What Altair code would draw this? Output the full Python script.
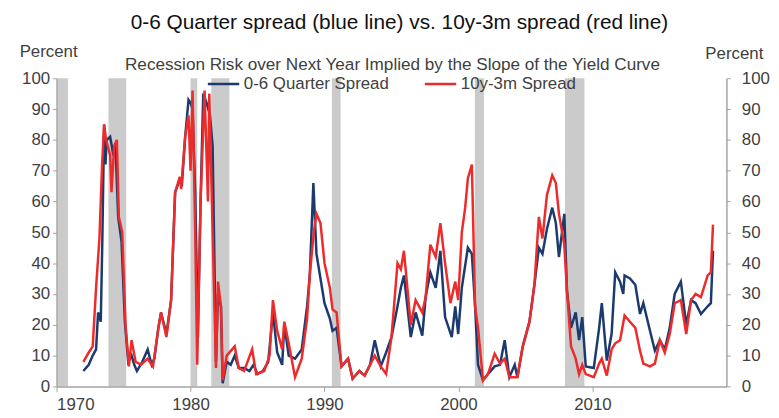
import altair as alt
import pandas as pd

FONT = "Liberation Sans"

# ---- data ----
blue_years = [1972.0, 1972.4, 1972.7, 1972.95, 1973.1, 1973.3, 1973.42, 1973.55, 1973.65, 1973.75,
              1974.0, 1974.2, 1974.4, 1974.6, 1974.85, 1975.1, 1975.35, 1975.6, 1975.8, 1976.0,
              1976.4, 1976.8, 1977.1, 1977.3, 1977.6, 1977.8, 1978.2, 1978.55, 1978.85, 1979.2,
              1979.35, 1979.6, 1979.85, 1980.0, 1980.15, 1980.35, 1980.55, 1980.75, 1980.95, 1981.2,
              1981.45, 1981.65, 1981.9, 1982.05, 1982.27, 1982.4, 1982.7, 1983.0, 1983.3, 1983.6,
              1984.0, 1984.4, 1984.7, 1985.0, 1985.4, 1985.8, 1986.15, 1986.47, 1986.84, 1987.0,
              1987.33, 1987.8, 1988.3, 1988.7, 1988.9, 1989.17, 1989.4, 1989.7, 1990.0, 1990.4,
              1990.6, 1990.9, 1991.27, 1991.76, 1992.1, 1992.6, 1993.0, 1993.4, 1993.75, 1994.2,
              1994.6, 1995.0, 1995.45, 1995.7, 1995.93, 1996.44, 1996.8, 1997.3, 1997.55, 1997.9,
              1998.3, 1998.65, 1999.0, 1999.5, 1999.76, 1999.98, 2000.25, 2000.7, 2001.0, 2001.24,
              2001.46, 2001.83, 2002.2, 2002.7, 2003.1, 2003.45, 2003.8, 2004.2, 2004.4, 2004.8,
              2005.3, 2005.67, 2006.0, 2006.27, 2006.6, 2007.0, 2007.27, 2007.5, 2007.9, 2008.1,
              2008.4, 2008.75, 2009.0, 2009.24, 2009.5, 2010.1, 2010.5, 2010.7, 2011.07, 2011.43,
              2011.7, 2012.06, 2012.3, 2012.4, 2012.8, 2013.2, 2013.55, 2013.8, 2014.3, 2014.66,
              2015.03, 2015.4, 2015.77, 2016.14, 2016.6, 2017.0, 2017.36, 2017.7, 2018.1, 2018.6,
              2018.84, 2019.0]
blue_vals = [5, 7, 10, 12, 24, 21, 48, 85, 72, 80,
             81, 76, 78, 55, 47, 21, 8, 10, 7, 5,
             8, 12, 7, 9, 19, 24, 17, 28, 63, 67,
             65, 81, 93, 92, 90, 63, 16, 60, 95, 92,
             88, 78, 8, 30, 26, 1, 8, 7, 10, 6,
             6, 5, 7, 4, 5, 8, 24, 11, 7, 20,
             10, 9, 12, 26, 36, 66, 43, 35, 27, 22,
             18, 19, 6.5, 9, 2.5, 5, 3.5, 7, 15, 6.5,
             11, 16, 26, 32, 36, 16, 24, 16.5, 29, 37,
             32, 44, 22.5, 16, 26, 17, 32, 45, 43, 26,
             7, 2, 4, 6.5, 7, 15, 3, 7, 3, 13,
             21, 33, 45, 43, 51, 58, 53, 42, 56, 31,
             19, 24, 15, 22.5, 6.5, 6, 19, 27, 8.4, 17,
             37, 34, 30, 36, 35, 33, 23.5, 27, 18, 11.6,
             15, 12, 19, 30, 34, 20, 28, 27, 23.5, 26,
             27, 44]

red_years = [1972.0, 1972.4, 1972.7, 1972.95, 1973.2, 1973.4, 1973.55, 1973.7, 1974.0, 1974.1,
             1974.3, 1974.5, 1974.65, 1974.9, 1975.15, 1975.4, 1975.6, 1975.9, 1976.3, 1976.8,
             1977.2, 1977.6, 1977.8, 1978.2, 1978.55, 1978.85, 1979.2, 1979.3, 1979.6, 1979.85,
             1980.0, 1980.15, 1980.35, 1980.5, 1980.75, 1981.05, 1981.3, 1981.4, 1981.65, 1981.9,
             1982.05, 1982.27, 1982.4, 1982.7, 1983.3, 1983.6, 1984.0, 1984.6, 1984.9, 1985.5,
             1985.9, 1986.15, 1986.47, 1986.84, 1987.0, 1987.33, 1987.8, 1988.3, 1988.7, 1988.9,
             1989.2, 1989.4, 1989.7, 1990.0, 1990.4, 1990.6, 1990.9, 1991.27, 1991.76, 1992.1,
             1992.6, 1993.0, 1993.75, 1994.2, 1994.6, 1995.0, 1995.45, 1995.7, 1995.93, 1996.44,
             1996.8, 1997.3, 1997.55, 1997.9, 1998.3, 1998.65, 1999.0, 1999.4, 1999.76, 1999.98,
             2000.25, 2000.5, 2000.7, 2001.0, 2001.24, 2001.46, 2001.83, 2002.2, 2002.7, 2003.1,
             2003.45, 2003.8, 2004.4, 2004.8, 2005.3, 2005.67, 2006.0, 2006.27, 2006.6, 2007.0,
             2007.27, 2007.5, 2007.9, 2008.1, 2008.4, 2008.75, 2009.0, 2009.24, 2009.5, 2010.1,
             2010.5, 2010.7, 2011.07, 2011.43, 2011.7, 2012.06, 2012.4, 2012.8, 2013.2, 2013.55,
             2013.8, 2014.3, 2014.66, 2015.03, 2015.4, 2015.77, 2016.14, 2016.6, 2017.0, 2017.36,
             2017.7, 2018.1, 2018.6, 2018.84, 2019.0]
red_vals = [8, 11, 13, 32, 48, 72, 85, 80, 75, 63,
            78, 80, 55, 50, 20, 6.5, 15, 8, 7, 9,
            6.5, 19, 24, 16, 28, 63, 68, 64, 81, 88,
            70, 96, 50, 7, 60, 96, 60, 95, 50, 6,
            34, 26, 2, 10, 13, 6, 5, 12, 4, 5,
            10, 28, 18, 12, 21, 14, 3, 9, 22, 36,
            50, 56, 53, 40, 32, 25, 24, 6.5, 9, 2.5,
            5, 3.5, 10, 6.5, 4, 16, 40, 38, 44, 20,
            28, 24, 29, 46, 42, 53, 40, 27, 34, 28,
            50, 58, 67.5, 72, 26, 19, 2, 4, 10.6, 7.4,
            9, 3, 3, 13, 21, 33, 55, 48, 62, 68.5,
            66, 56, 46, 31, 13, 9, 4, 7, 4, 3,
            7.4, 9, 3.5, 12, 14, 15, 23, 21, 19, 11.6,
            7.4, 6.5, 7.4, 15, 11, 17, 27, 28, 17, 28,
            30, 29, 36, 37, 52.5]

series_names = ["0-6 Quarter Spread", "10y-3m Spread"]
series_colors = ["#1b3b6f", "#ee2b2b"]

rec_start = [1970.08, 1973.87, 1980.0, 1981.55, 1990.55, 2001.22, 2007.95]
rec_end = [1970.85, 1975.2, 1980.5, 1982.9, 1991.2, 2001.9, 2009.4]

x_ticks = [1970, 1980, 1990, 2000, 2010]
y_ticks = list(range(0, 101, 10))

headline = "0-6 Quarter spread (blue line) vs. 10y-3m spread (red line)"
subtitle = "Recession Risk over Next Year Implied by the Slope of the Yield Curve"
y_title = "Percent"

# ---- tables ----
df_lines = pd.concat([
    pd.DataFrame({"year": blue_years, "value": blue_vals, "series": series_names[0]}),
    pd.DataFrame({"year": red_years, "value": red_vals, "series": series_names[1]}),
], ignore_index=True)
df_rec = pd.DataFrame({"start": rec_start, "end": rec_end})

AX = "#a3a3a3"
LBL = "#404040"
xs = alt.Scale(domain=[1970, 2020], nice=False, zero=False)
ys = alt.Scale(domain=[0, 100], nice=False)

x_axis = alt.Axis(values=x_ticks, format="d", title=None, grid=False, domainColor=AX,
                  domainWidth=1.5, tickColor=AX, tickSize=5, labelFontSize=17,
                  labelFont=FONT, labelColor=LBL, labelPadding=5, zindex=1)
left_axis = alt.Axis(orient="left", values=y_ticks, title=None, grid=False, domainColor=AX,
                     domainWidth=1.5, tickColor=AX, tickSize=4, labelFontSize=17,
                     labelFont=FONT, labelColor=LBL, labelPadding=3, zindex=1)
right_axis = alt.Axis(orient="right", values=y_ticks, title=None, grid=False, domainColor=AX,
                      domainWidth=1.5, tickColor=AX, tickSize=4, labelFontSize=17,
                      labelFont=FONT, labelColor=LBL, labelPadding=11, zindex=1)

recessions = alt.Chart(df_rec).mark_rect(color="#cbcbcb").encode(
    x=alt.X("start:Q", scale=xs, axis=x_axis),
    x2="end:Q",
)

lines = alt.Chart(df_lines).mark_line(strokeWidth=2.5).encode(
    x=alt.X("year:Q", scale=xs, axis=x_axis),
    y=alt.Y("value:Q", scale=ys, axis=left_axis),
    color=alt.Color("series:N",
                    scale=alt.Scale(domain=series_names, range=series_colors),
                    legend=alt.Legend(title=None, orient="none", legendX=151, legendY=-12,
                                      direction="horizontal", symbolType="stroke",
                                      symbolStrokeWidth=2.5, symbolSize=1000,
                                      labelFontSize=17, labelFont=FONT, labelColor=LBL,
                                      labelOffset=3, columnPadding=30, padding=0)),
)

right = alt.Chart(df_lines).mark_point(opacity=0).encode(
    x=alt.X("year:Q", scale=xs, axis=x_axis),
    y=alt.Y("value:Q", scale=ys, axis=right_axis),
)

one = alt.Data(values=[{}])


def label(text, x, y, size, color, align="center"):
    return alt.Chart(one).mark_text(text=text, font=FONT, fontSize=size, color=color,
                                    align=align, baseline="alphabetic").encode(
        x=alt.value(x), y=alt.value(y))


texts = [
    label(headline, 346, -49.5, 21, "#111111"),
    label(subtitle, 339, -8, 17.3, LBL),
    label(y_title, -8, -21, 17, LBL),
    label(y_title, 684, -19, 17, LBL),
]

chart = alt.layer(recessions, lines, right, *texts).resolve_axis(y="independent").properties(
    width=676, height=311,
    autosize=alt.AutoSizeParams(type="none"),
    padding={"left": 49, "top": 69, "right": 45, "bottom": 30},
    background="white",
).configure_view(stroke=None)

chart.save("out.html", embed_options={"renderer": "svg", "actions": False})
